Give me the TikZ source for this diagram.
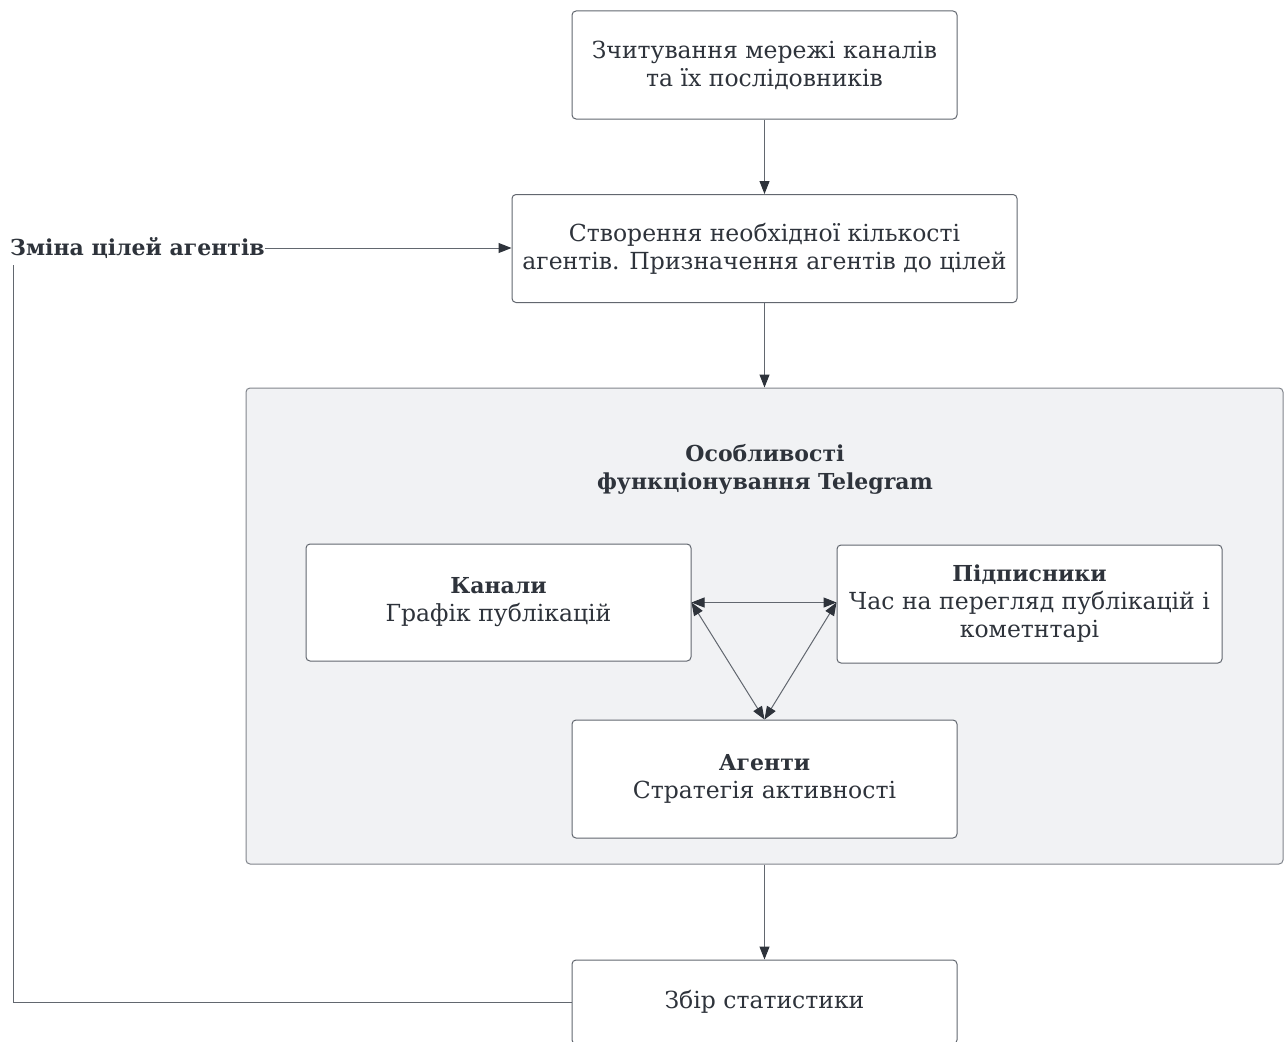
\documentclass[tikz,border=0pt]{standalone}
\usepackage{fontspec}
\setmainfont{DejaVu Serif}
\usetikzlibrary{arrows.meta, positioning}
\definecolor{inkgray}{HTML}{2E333B}
\definecolor{linegray}{HTML}{62676F}
\definecolor{panelfill}{HTML}{F1F2F4}
\tikzset{
    every node/.style = {font=\fontsize{23.5}{28}\selectfont, text=inkgray, align=center},
    heading/.style = {font=\fontsize{22}{28}\selectfont\bfseries},
    stepbox/.style = {draw=linegray, fill=white, rounded corners=4pt, line width=1pt,
                      minimum width=385pt, minimum height=108pt},
    panel/.style = {draw=linegray!80, fill=panelfill, rounded corners=4pt, line width=1pt},
    flow/.style = {draw=linegray, line width=1pt, -{Triangle[length=13pt, width=10pt, color=inkgray]}},
    biflow/.style = {draw=linegray, line width=1pt,
                     {Triangle[length=13pt, width=10pt, color=inkgray]}-{Triangle[length=13pt, width=10pt, color=inkgray]}},
    plain/.style = {draw=linegray, line width=1pt}
}
\newcommand{\hd}[1]{{\fontsize{22}{28}\selectfont\bfseries #1}}
\begin{document}
\begin{tikzpicture}[x=1pt, y=-1pt]
    \useasboundingbox (0,0) rectangle (1287,1041);
    \clip (0,0) rectangle (1287,1041);
    \fill[white] (0,0) rectangle (1287,1041);

    % top of the flow
    \node[stepbox] (read) at (764.5,65) {Зчитування мережі каналів\\та їх послідовників};
    \node[stepbox, minimum width=505pt] (create) at (764.5,248.5)
        {Створення необхідної кількості\\агентів. Призначення агентів до цілей};

    % Telegram panel
    \node[panel, minimum width=1037pt, minimum height=476pt] (tg) at (764.5,626) {};
    \node[heading] (tgtitle) at (765,469) {Особливості\\функціонування Telegram};
    \node[stepbox, minimum height=117pt] (chan) at (498.5,602.5)
        {\hd{Канали}\\Графік публікацій};
    \node[stepbox, minimum height=118pt] (subs) at (1029.5,604)
        {\hd{Підписники}\\Час на перегляд публікацій і\\кометнтарі};
    \node[stepbox, minimum height=118pt] (agents) at (764.5,779)
        {\hd{Агенти}\\Стратегія активності};

    % bottom and feedback
    \node[stepbox, minimum height=84pt] (stats) at (764.5,1002) {Збір статистики};
    \node[heading, anchor=west, inner sep=0pt] (change) at (10,248) {Зміна цілей агентів};
    \coordinate (turn) at (13,265);

    \draw[flow] (read) -- (create);
    \draw[flow] (create) -- (tg.north -| create.south);
    \draw[flow] (tg.south -| stats.north) -- (stats);
    \draw[biflow] (chan.east) -- (chan.east -| subs.west);
    \draw[biflow] (chan.east) -- (agents.north);
    \draw[biflow] (chan.east -| subs.west) -- (agents.north);
    \draw[plain] (stats.west) -| (turn);
    \draw[flow] (change.east) -- (create.west |- change.east);
\end{tikzpicture}
\end{document}
